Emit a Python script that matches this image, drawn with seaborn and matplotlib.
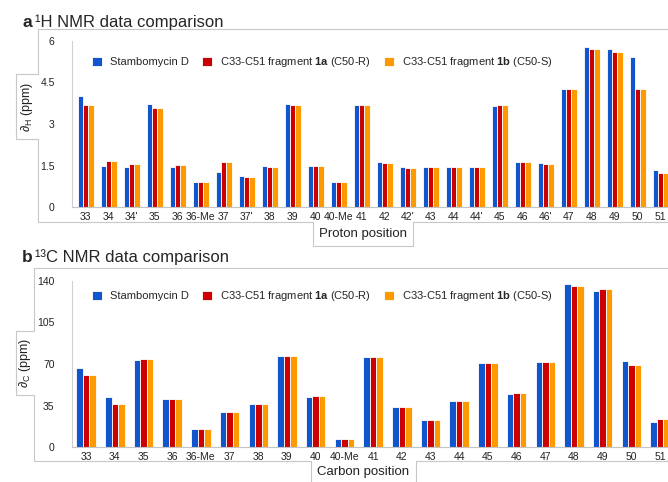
import pandas as pd
import matplotlib
matplotlib.use('Agg')
import matplotlib.pyplot as plt
from matplotlib.lines import Line2D
import seaborn as sns

# 1H data (panel a)
h_pos = ['33', '34', "34'", '35', '36', '36-Me', '37', "37'", '38', '39', '40', '40-Me',
         '41', '42', "42'", '43', '44', "44'", '45', '46', "46'", '47', '48', '49', '50', '51']
h_stambo = [4.03, 1.49, 1.46, 3.71, 1.46, 0.90, 1.26, 1.12, 1.49, 3.71, 1.49, 0.90,
            3.68, 1.61, 1.44, 1.44, 1.46, 1.44, 3.65, 1.63, 1.58, 4.27, 5.80, 5.71, 5.41, 1.32]
h_frag_1a = [3.68, 1.67, 1.55, 3.58, 1.52, 0.90, 1.61, 1.08, 1.46, 3.68, 1.49, 0.90,
             3.68, 1.58, 1.40, 1.46, 1.46, 1.46, 3.68, 1.63, 1.55, 4.25, 5.71, 5.62, 4.25, 1.22]
h_frag_1b = [3.68, 1.67, 1.55, 3.58, 1.52, 0.90, 1.61, 1.08, 1.46, 3.68, 1.49, 0.90,
             3.68, 1.58, 1.40, 1.46, 1.46, 1.46, 3.68, 1.63, 1.55, 4.25, 5.71, 5.62, 4.25, 1.22]

# 13C data (panel b)
c_pos = ['33', '34', '35', '36', '36-Me', '37', '38', '39', '40', '40-Me',
         '41', '42', '43', '44', '45', '46', '47', '48', '49', '50', '51']
c_stambo = [66.9, 42.2, 73.1, 40.8, 15.5, 29.8, 36.0, 76.5, 42.2, 7.0,
            75.6, 34.0, 23.1, 38.5, 70.8, 44.7, 71.4, 137.2, 131.3, 72.8, 20.8]
c_frag_1a = [60.4, 36.5, 73.9, 40.8, 15.5, 29.8, 36.0, 76.5, 43.0, 7.0,
             75.6, 34.0, 23.1, 38.5, 70.8, 45.5, 71.4, 136.1, 133.3, 68.9, 23.6]
c_frag_1b = [60.4, 36.5, 73.9, 40.8, 15.5, 29.8, 36.0, 76.5, 43.0, 7.0,
             75.6, 34.0, 23.1, 38.5, 70.8, 45.5, 71.4, 136.1, 133.3, 68.9, 23.6]

series = ['Stambomycin D',
          r'C33-C51 fragment $\mathbf{1a}$ (C50-R)',
          r'C33-C51 fragment $\mathbf{1b}$ (C50-S)']
colors = ['#1155cc', '#cc0000', '#ff9900']

W, H = 668, 482


def fx(x):
    return x / W


def fy(y):
    return 1 - y / H


def to_long(pos, vals):
    frames = []
    for name, v in zip(series, vals):
        frames.append(pd.DataFrame({'pos': pos, 'ppm': v, 'series': name}))
    return pd.concat(frames, ignore_index=True)


sns.set_style('white')
plt.rcParams['font.family'] = ['Liberation Sans', 'DejaVu Sans']
plt.rcParams['mathtext.fontset'] = 'custom'
plt.rcParams['mathtext.rm'] = 'Liberation Sans'
plt.rcParams['mathtext.it'] = 'Liberation Sans:italic'
plt.rcParams['mathtext.bf'] = 'Liberation Sans:bold'

fig = plt.figure(figsize=(6.68, 4.82), dpi=100)


def panel(pos, vals, left_px, top_px, bottom_px, step_px, xlim, yticks, ylabels, leg_y):
    n_left, n_right = xlim
    width_px = (n_right - n_left) * step_px
    ax = fig.add_axes([fx(left_px), fy(bottom_px), width_px / W, (bottom_px - top_px) / H])
    df = to_long(pos, vals)
    sns.barplot(data=df, x='pos', y='ppm', hue='series', order=pos, hue_order=series,
                palette=colors, saturation=1, width=0.68, edgecolor='white',
                linewidth=0.6, ax=ax)
    ax.set_xlim(n_left, n_right)
    ax.set_ylim(yticks[0], yticks[-1])
    ax.set_yticks(yticks)
    ax.set_yticklabels(ylabels)
    ax.set_xlabel('')
    ax.set_ylabel('')
    for s in ['top', 'right']:
        ax.spines[s].set_visible(False)
    ax.spines['left'].set_color('#d0d0d0')
    ax.spines['bottom'].set_color('#c4c4c4')
    ax.spines['left'].set_linewidth(0.8)
    ax.spines['bottom'].set_linewidth(0.8)
    ax.tick_params(axis='y', length=2.5, color='#d0d0d0', pad=10, labelsize=7.5,
                   labelcolor='#222222')
    ax.tick_params(axis='x', length=0, pad=3.5, labelsize=7.5, labelcolor='#222222')
    handles, labels = ax.get_legend_handles_labels()
    ax.legend(handles, labels, ncol=3, frameon=False, fontsize=8,
              loc='center left', bbox_to_anchor=(fx(92), fy(leg_y)),
              bbox_transform=fig.transFigure, borderpad=0, borderaxespad=0,
              handlelength=0.9, handleheight=0.9, handletextpad=0.7,
              columnspacing=1.2)
    return ax


panel(h_pos, [h_stambo, h_frag_1a, h_frag_1b], 72, 41, 207, 23.0, (-0.6, 25.6),
      [0, 1.5, 3, 4.5, 6], ['0', '1.5', '3', '4.5', '6'], 62)
panel(c_pos, [c_stambo, c_frag_1a, c_frag_1b], 72, 281, 447, 28.7, (-0.49, 20.7),
      [0, 35, 70, 105, 140], ['0', '35', '70', '105', '140'], 296)

# titles
fig.text(fx(22), fy(27), 'a', fontsize=12.5, fontweight='bold', va='baseline')
fig.text(fx(35), fy(27), '\u00b9H NMR data comparison', fontsize=12, va='baseline')
fig.text(fx(22), fy(262), 'b', fontsize=12.5, fontweight='bold', va='baseline')
fig.text(fx(35), fy(262), '\u00b9\u00b3C NMR data comparison', fontsize=12, va='baseline')

# axis labels in tab boxes
fig.text(fx(27), fy(107), r'$\partial_\mathrm{H}$ (ppm)', rotation=90, fontsize=9,
         ha='center', va='center', color='#222222')
fig.text(fx(363), fy(234), 'Proton position', fontsize=9.5, ha='center', va='center',
         color='#222222')
fig.text(fx(25), fy(363), r'$\partial_\mathrm{C}$ (ppm)', rotation=90, fontsize=9,
         ha='center', va='center', color='#222222')
fig.text(fx(363), fy(472), 'Carbon position', fontsize=9.5, ha='center', va='center',
         color='#222222')


def frame(pts):
    xs = [fx(p[0]) for p in pts]
    ys = [fy(p[1]) for p in pts]
    fig.add_artist(Line2D(xs, ys, transform=fig.transFigure, color='#c8c8c8', lw=0.8))


frame([(670, 29), (38, 29), (38, 74), (16, 74), (16, 139), (38, 139), (38, 222),
       (313, 222), (313, 246), (413, 246), (413, 222), (670, 222)])
frame([(670, 268), (34, 268), (34, 331), (16, 331), (16, 395), (34, 395), (34, 461),
       (311, 461), (311, 490), (416, 490), (416, 461), (670, 461)])

fig.savefig('out.png', dpi=100)
